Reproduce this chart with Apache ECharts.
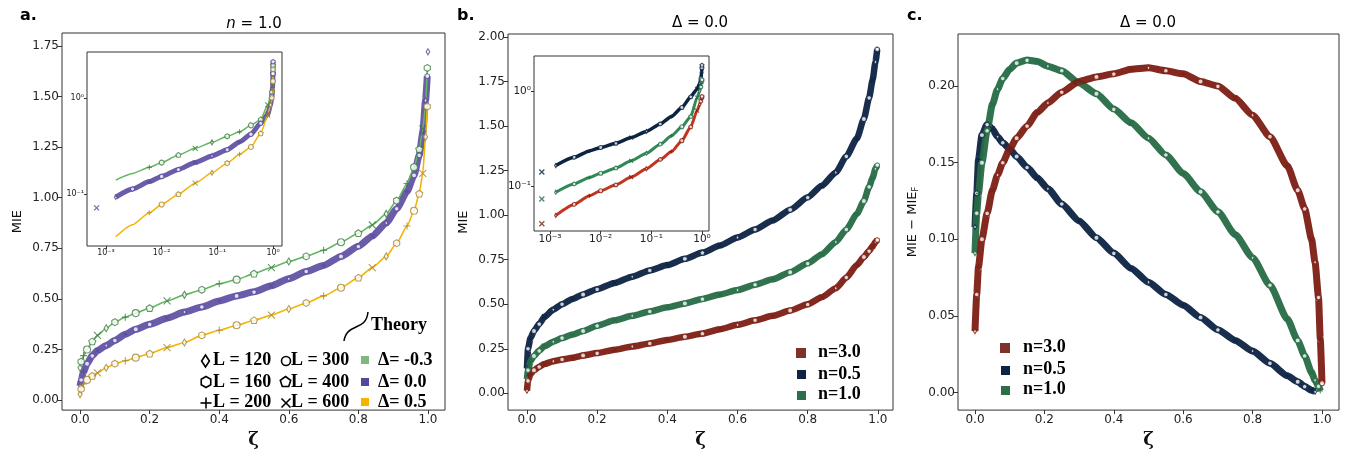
<!DOCTYPE html>
<html>
<head>
<meta charset="utf-8">
<title>MIE</title>
<script src="https://cdn.jsdelivr.net/npm/echarts@6/dist/echarts.min.js"></script>
<style>
  body { margin: 0; background: #fff; }
  #main { width: 1346px; height: 454px; }
</style>
</head>
<body>
<div id="main"></div>
<script>
// ---- data ----
// panels a and b share one zeta grid
var zetaAB = [0, 0.003, 0.01, 0.02, 0.035, 0.05, 0.075, 0.1, 0.13, 0.16, 0.2, 0.25, 0.3, 0.35, 0.4, 0.45,
  0.5, 0.55, 0.6, 0.65, 0.7, 0.75, 0.8, 0.84, 0.88, 0.91, 0.94, 0.96, 0.975, 0.985, 0.993, 0.998];

// a. n = 1.0
var aGreen = [0.16, 0.19, 0.22, 0.25, 0.29, 0.32, 0.355, 0.385, 0.41, 0.43, 0.455, 0.49, 0.52, 0.545, 0.575, 0.595,
  0.625, 0.655, 0.685, 0.71, 0.74, 0.78, 0.825, 0.865, 0.92, 0.985, 1.07, 1.15, 1.24, 1.34, 1.45, 1.64];   // Δ=-0.3
var aPurple = [0.07, 0.10, 0.14, 0.18, 0.22, 0.245, 0.27, 0.295, 0.325, 0.35, 0.375, 0.405, 0.435, 0.46, 0.49, 0.515,
  0.535, 0.565, 0.60, 0.635, 0.665, 0.71, 0.76, 0.81, 0.875, 0.945, 1.03, 1.11, 1.21, 1.32, 1.48, 1.60];   // Δ=0.0
var aYellow = [0.03, 0.055, 0.08, 0.10, 0.12, 0.135, 0.16, 0.18, 0.195, 0.21, 0.23, 0.26, 0.285, 0.32, 0.345, 0.37,
  0.395, 0.42, 0.45, 0.48, 0.515, 0.555, 0.605, 0.655, 0.71, 0.775, 0.86, 0.935, 1.02, 1.12, 1.30, 1.45];  // Δ=0.5
var aPurpleTopZ = [1.0];
var aPurpleTop = [1.72];

// a. inset (log-log)
var zetaIA = [0.0015, 0.003, 0.006, 0.01, 0.02, 0.04, 0.08, 0.15, 0.25, 0.4, 0.6, 0.8, 0.9, 0.95, 0.98, 0.995, 0.999];
var iaGreen = [0.14, 0.164, 0.19, 0.213, 0.256, 0.30, 0.346, 0.40, 0.445, 0.52, 0.60, 0.85, 1.0, 1.15, 1.4, 1.8, 2.2];
var iaPurple = [0.093, 0.113, 0.135, 0.153, 0.181, 0.214, 0.25, 0.29, 0.35, 0.42, 0.55, 0.68, 0.85, 1.05, 1.3, 1.8, 2.4];
var iaYellow = [0.036, 0.048, 0.064, 0.078, 0.1, 0.13, 0.167, 0.21, 0.26, 0.31, 0.43, 0.66, 0.85, 1.0, 1.2, 1.5, 2.0];
var iaLoneZ = [0.00068];
var iaLonePurple = [0.072];

// b. Δ = 0.0
var bNavy = [0.14, 0.25, 0.31, 0.35, 0.39, 0.43, 0.47, 0.50, 0.53, 0.555, 0.585, 0.62, 0.655, 0.69, 0.72, 0.755,
  0.79, 0.83, 0.875, 0.92, 0.97, 1.03, 1.10, 1.165, 1.24, 1.33, 1.43, 1.54, 1.66, 1.76, 1.86, 1.93];    // n=0.5
var bGreen = [0.08, 0.13, 0.18, 0.21, 0.24, 0.265, 0.29, 0.31, 0.33, 0.35, 0.38, 0.41, 0.435, 0.46, 0.483, 0.505,
  0.53, 0.555, 0.58, 0.61, 0.64, 0.68, 0.73, 0.78, 0.85, 0.92, 1.007, 1.08, 1.16, 1.21, 1.26, 1.28];     // n=1.0
var bRed = [0.015, 0.07, 0.107, 0.13, 0.15, 0.165, 0.18, 0.19, 0.2, 0.213, 0.226, 0.245, 0.263, 0.28, 0.30, 0.318,
  0.336, 0.36, 0.385, 0.41, 0.435, 0.465, 0.50, 0.54, 0.59, 0.65, 0.72, 0.765, 0.80, 0.825, 0.85, 0.86]; // n=3.0

// b. inset (log-log)
var zetaIB = [0.0013, 0.003, 0.006, 0.01, 0.02, 0.04, 0.08, 0.15, 0.25, 0.4, 0.6, 0.8, 0.9, 0.95, 0.98, 0.995, 0.999];
var ibNavy = [0.164, 0.20, 0.234, 0.254, 0.282, 0.323, 0.375, 0.45, 0.54, 0.67, 0.87, 1.05, 1.2, 1.35, 1.55, 1.75, 1.87];
var ibGreen = [0.086, 0.105, 0.123, 0.136, 0.155, 0.184, 0.221, 0.275, 0.337, 0.42, 0.54, 0.85, 1.0, 1.1, 1.2, 1.28, 1.32];
var ibRed = [0.049, 0.064, 0.079, 0.089, 0.103, 0.124, 0.152, 0.19, 0.23, 0.30, 0.42, 0.62, 0.72, 0.78, 0.83, 0.86, 0.88];
var ibLoneZ = [0.00069];
var ibLoneNavy = [0.14];
var ibLoneGreen = [0.073];
var ibLoneRed = [0.04];

// c. Δ = 0.0, MIE - MIE_F
var zetaC = [0, 0.005, 0.01, 0.02, 0.035, 0.05, 0.065, 0.08, 0.1, 0.12, 0.15, 0.18, 0.21, 0.25, 0.3, 0.35, 0.4,
  0.45, 0.5, 0.55, 0.6, 0.65, 0.7, 0.75, 0.8, 0.85, 0.9, 0.93, 0.95, 0.97, 0.98, 0.99, 0.995, 1.0];
var cNavy = [0.108, 0.13, 0.152, 0.168, 0.175, 0.172, 0.167, 0.163, 0.159, 0.154, 0.147, 0.14, 0.133, 0.123, 0.112,
  0.101, 0.091, 0.081, 0.072, 0.064, 0.057, 0.049, 0.041, 0.034, 0.027, 0.019, 0.011, 0.007, 0.004, 0.0015, 0.0005,
  null, null, null];
var cGreen = [0.091, 0.117, 0.13, 0.15, 0.171, 0.188, 0.198, 0.205, 0.211, 0.215, 0.217, 0.216, 0.213, 0.21, 0.202,
  0.195, 0.185, 0.176, 0.166, 0.155, 0.143, 0.131, 0.118, 0.103, 0.088, 0.07, 0.048, 0.034, 0.024, 0.013, 0.008,
  0.004, 0.001, null];
var cRed = [0.04, 0.064, 0.082, 0.1, 0.117, 0.132, 0.142, 0.15, 0.159, 0.166, 0.174, 0.183, 0.189, 0.196, 0.203,
  0.206, 0.208, 0.211, 0.212, 0.21, 0.208, 0.203, 0.2, 0.192, 0.181, 0.167, 0.148, 0.132, 0.12, 0.1, 0.085, 0.062,
  0.035, 0.006];

// tick values
var xTicks = [0, 0.2, 0.4, 0.6, 0.8, 1.0];
var aYTicks = [0, 0.25, 0.5, 0.75, 1.0, 1.25, 1.5, 1.75];
var bYTicks = [0, 0.25, 0.5, 0.75, 1.0, 1.25, 1.5, 1.75, 2.0];
var cYTicks = [0, 0.05, 0.1, 0.15, 0.2];

// ---- styling ----
var C = {
  aGreenLine: '#63b763', aGreenMark: '#3f7d40', aPurple: '#5a4a9e', aYellowLine: '#f5b400', aYellowMark: '#a4862f',
  navy: '#0c2342', green: '#266c46', red: '#7c1e13', ibGreen: '#2f8a55', ibRed: '#c4341f'
};
var SYMS = [
  'path://M0,-10L6,0L0,10L-6,0Z',                                // L=120 diamond
  'path://M0,-10L8.7,-5L8.7,5L0,10L-8.7,5L-8.7,-5Z',             // L=160 hexagon
  'path://M0,-10L0,10M-10,0L10,0',                               // L=200 plus
  'circle',                                                      // L=300
  'path://M0,-10L9.5,-3.1L5.9,8.1L-5.9,8.1L-9.5,-3.1Z',          // L=400 pentagon
  'path://M-8,-8L8,8M-8,8L8,-8'                                  // L=600 cross
];
var SANS = '"DejaVu Sans", sans-serif';
var SERIF = '"Liberation Serif", "DejaVu Serif", serif';

function pts(xs, ys) {
  var out = [];
  xs.forEach(function (x, i) { if (ys[i] != null) out.push([x, ys[i]]); });
  return out;
}
function lineS(g, xs, ys, color, width, opacity, z) {
  return {
    type: 'line', xAxisIndex: g, yAxisIndex: g, data: pts(xs, ys), showSymbol: false,
    smooth: 0.2, smoothMonotone: 'x', silent: true, z: z,
    lineStyle: { color: color, width: width, opacity: opacity }
  };
}
function markS(g, xs, ys, color, size, minZ) {
  var data = [];
  xs.forEach(function (x, i) {
    if (ys[i] == null || x < (minZ || 0)) return;
    data.push({ value: [x, ys[i]], symbol: SYMS[i % 6] });
  });
  return {
    type: 'scatter', xAxisIndex: g, yAxisIndex: g, data: data, symbolSize: size, symbolKeepAspect: true,
    silent: true, z: 4, itemStyle: { color: '#fff', borderColor: color, borderWidth: 1.1 }
  };
}
function loneS(g, xs, ys, color) {
  return {
    type: 'scatter', xAxisIndex: g, yAxisIndex: g, data: pts(xs, ys), symbol: SYMS[5], symbolSize: 5,
    silent: true, z: 4, itemStyle: { color: 'none', borderColor: color, borderWidth: 1.3 }
  };
}

function mainX(g, min, max) {
  return {
    gridIndex: g, type: 'value', min: min, max: max,
    axisLine: { show: false, onZero: false }, splitLine: { show: false },
    axisTick: { customValues: xTicks, length: 4, lineStyle: { color: '#333' } },
    axisLabel: { customValues: xTicks, formatter: function (v) { return v.toFixed(1); },
      color: '#222', fontSize: 12, fontFamily: SANS, margin: 4 },
    name: 'ζ', nameLocation: 'middle', nameGap: 15,
    nameTextStyle: { fontSize: 18, fontWeight: 'bold', fontFamily: '"DejaVu Serif", serif', color: '#111' }
  };
}
function mainY(g, min, max, ticks, name) {
  return {
    gridIndex: g, type: 'value', min: min, max: max,
    axisLine: { show: false, onZero: false }, splitLine: { show: false },
    axisTick: { customValues: ticks, length: 4, lineStyle: { color: '#333' } },
    axisLabel: { customValues: ticks, formatter: function (v) { return v.toFixed(2); },
      color: '#222', fontSize: 12, fontFamily: SANS, margin: 3 },
    name: name, nameLocation: 'middle', nameGap: 38,
    nameTextStyle: { fontSize: 13, fontFamily: SANS, color: '#111',
      rich: { s: { fontSize: 8, fontFamily: SANS, color: '#111', verticalAlign: 'bottom', padding: [6, 0, 0, 0] } } }
  };
}
var SUP = { '-': '⁻', '0': '⁰', '1': '¹', '2': '²', '3': '³' };
function powLabel(v) {
  var e = String(Math.round(Math.log10(v)));
  return '10' + e.split('').map(function (c) { return SUP[c]; }).join('');
}
function logAxis(g, lo, hi, fs) {
  return {
    gridIndex: g, type: 'log', logBase: 10, min: Math.pow(10, lo), max: Math.pow(10, hi),
    axisLine: { show: false, onZero: false }, splitLine: { show: false },
    axisTick: { length: 3, lineStyle: { color: '#333' } },
    axisLabel: { formatter: powLabel, showMinLabel: false, showMaxLabel: false,
      color: '#222', fontSize: fs, fontFamily: SANS, margin: 3 }
  };
}

var series = [
  // a
  lineS(0, zetaAB, aGreen, C.aGreenLine, 1.6, 1, 3),
  markS(0, zetaAB, aGreen, C.aGreenMark, 7),
  lineS(0, zetaAB, aPurple, C.aPurple, 7, 0.9, 2),
  markS(0, zetaAB, aPurple, C.aPurple, 5),
  markS(0, aPurpleTopZ, aPurpleTop, C.aPurple, 6),
  lineS(0, zetaAB, aYellow, C.aYellowLine, 1.6, 1, 3),
  markS(0, zetaAB, aYellow, C.aYellowMark, 7),
  // a inset
  lineS(3, zetaIA, iaGreen, C.aGreenLine, 1.5, 1, 3),
  markS(3, zetaIA, iaGreen, C.aGreenMark, 5, 0.005),
  lineS(3, zetaIA, iaPurple, C.aPurple, 5, 0.9, 2),
  markS(3, zetaIA, iaPurple, C.aPurple, 4.5),
  lineS(3, zetaIA, iaYellow, C.aYellowLine, 1.5, 1, 3),
  markS(3, zetaIA, iaYellow, C.aYellowMark, 5, 0.005),
  loneS(3, iaLoneZ, iaLonePurple, C.aPurple),
  // b
  lineS(1, zetaAB, bNavy, C.navy, 6.5, 0.95, 2),
  markS(1, zetaAB, bNavy, C.navy, 5),
  lineS(1, zetaAB, bGreen, C.green, 6.5, 0.95, 2),
  markS(1, zetaAB, bGreen, C.green, 5),
  lineS(1, zetaAB, bRed, C.red, 6.5, 0.95, 2),
  markS(1, zetaAB, bRed, C.red, 5),
  // b inset
  lineS(4, zetaIB, ibNavy, C.navy, 3.5, 1, 2),
  markS(4, zetaIB, ibNavy, C.navy, 4),
  lineS(4, zetaIB, ibGreen, C.ibGreen, 3, 1, 2),
  markS(4, zetaIB, ibGreen, C.green, 4),
  lineS(4, zetaIB, ibRed, C.ibRed, 3, 1, 2),
  markS(4, zetaIB, ibRed, C.red, 4),
  loneS(4, ibLoneZ, ibLoneNavy, C.navy),
  loneS(4, ibLoneZ, ibLoneGreen, C.green),
  loneS(4, ibLoneZ, ibLoneRed, C.red),
  // c
  lineS(2, zetaC, cNavy, C.navy, 7, 0.95, 2),
  markS(2, zetaC, cNavy, C.navy, 5),
  lineS(2, zetaC, cGreen, C.green, 7, 0.95, 2),
  markS(2, zetaC, cGreen, C.green, 5),
  lineS(2, zetaC, cRed, C.red, 7, 0.95, 2),
  markS(2, zetaC, cRed, C.red, 5)
];

// ---- legend / titles drawn as graphic ----
function txt(x, y, text, font, align, extra) {
  var st = { text: text, font: font, fill: '#000', align: align || 'left', verticalAlign: 'middle' };
  if (extra) for (var k in extra) st[k] = extra[k];
  return { type: 'text', x: x, y: y, z: 10, style: st };
}
function poly(cx, cy, r, n, rot, sx) {
  var p = [];
  for (var i = 0; i < n; i++) {
    var a = rot + i * 2 * Math.PI / n;
    p.push([cx + r * (sx || 1) * Math.sin(a), cy - r * Math.cos(a)]);
  }
  return { type: 'polygon', z: 10, shape: { points: p }, style: { fill: 'none', stroke: '#000', lineWidth: 1.6 } };
}
function seg(x1, y1, x2, y2) {
  return { type: 'line', z: 10, shape: { x1: x1, y1: y1, x2: x2, y2: y2 }, style: { stroke: '#000', lineWidth: 1.6 } };
}
function sq(x, y, s, color) {
  return { type: 'rect', z: 10, shape: { x: x, y: y, width: s, height: s }, style: { fill: color } };
}
var LF = 'bold 18px ' + SERIF;
var graphic = [
  txt(20, 16, 'a.', 'bold 16px ' + SANS),
  txt(457, 16, 'b.', 'bold 16px ' + SANS),
  txt(907, 16, 'c.', 'bold 16px ' + SANS),
  txt(254, 24, '{i|n} = 1.0', '15px ' + SANS, 'center', { rich: { i: { fontStyle: 'italic', fontSize: 15, fontFamily: SANS } } }),
  txt(700, 23, 'Δ = 0.0', '15px ' + SANS, 'center'),
  txt(1148, 23, 'Δ = 0.0', '15px ' + SANS, 'center'),
  // panel a legend
  { type: 'bezierCurve', z: 10, shape: { x1: 344, y1: 341, cpx1: 347, cpy1: 322, cpx2: 366, cpy2: 332, x2: 368, y2: 312 },
    style: { stroke: '#000', lineWidth: 1.5, fill: 'none' } },
  txt(371, 325, 'Theory', LF),
  poly(205.5, 361, 6, 4, 0, 0.65),
  txt(213, 360, 'L = 120', LF),
  poly(206, 382, 5.5, 6, 0),
  txt(213, 382, 'L = 160', LF),
  seg(200.5, 403, 211.5, 403), seg(206, 397.5, 206, 408.5),
  txt(213, 402, 'L = 200', LF),
  { type: 'circle', z: 10, shape: { cx: 286, cy: 361, r: 4.5 }, style: { fill: 'none', stroke: '#000', lineWidth: 1.6 } },
  txt(291, 360, 'L = 300', LF),
  poly(285.5, 382, 5.5, 5, 0),
  txt(291, 382, 'L = 400', LF),
  seg(281.5, 398.5, 290.5, 407.5), seg(281.5, 407.5, 290.5, 398.5),
  txt(291, 402, 'L = 600', LF),
  sq(361, 356, 8, '#80b77f'),
  txt(378, 360, 'Δ= -0.3', LF),
  sq(361, 378, 8, '#55489b'),
  txt(378, 382, 'Δ= 0.0', LF),
  sq(361, 398, 8, '#f6b300'),
  txt(378, 402, 'Δ= 0.5', LF),
  // panel b legend
  sq(796, 348, 10, '#7e3229'), txt(818, 352, 'n=3.0', LF),
  sq(797, 370, 9, '#0e2445'), txt(818, 374, 'n=0.5', LF),
  sq(797, 391, 9, '#2c6e47'), txt(818, 394, 'n=1.0', LF),
  // panel c legend
  sq(1000, 343, 10, '#7e3229'), txt(1023, 347, 'n=3.0', LF),
  sq(1001, 366, 9, '#0e2445'), txt(1023, 369, 'n=0.5', LF),
  sq(1001, 386, 9, '#2c6e47'), txt(1023, 389, 'n=1.0', LF)
];

var gridBase = { show: true, borderColor: '#333', borderWidth: 1, backgroundColor: '#fff' };
function grid(l, t, w, h) {
  return Object.assign({ left: l, top: t, width: w, height: h }, gridBase);
}

var chart = echarts.init(document.getElementById('main'), null, { renderer: 'canvas' });
chart.setOption({
  animation: false,
  backgroundColor: '#fff',
  grid: [grid(62, 33, 383, 382), grid(508, 34, 385, 382), grid(958, 34, 381, 383),
         grid(87, 52, 195, 194), grid(534, 56, 175, 175)],
  xAxis: [mainX(0, -0.052, 1.049), mainX(1, -0.054, 1.043), mainX(2, -0.049, 1.049),
          logAxis(3, -3.34, 0.16, 8), logAxis(4, -3.316, 0.138, 10.5)],
  yAxis: [mainY(0, -0.049, 1.813, aYTicks, 'MIE'), mainY(1, -0.094, 2.017, bYTicks, 'MIE'),
          mainY(2, -0.0115, 0.234, cYTicks, 'MIE − MIE{s|F}'),
          logAxis(3, -1.54, 0.48, 8), logAxis(4, -1.474, 0.368, 10.5)],
  series: series,
  graphic: graphic
});
</script>
</body>
</html>
